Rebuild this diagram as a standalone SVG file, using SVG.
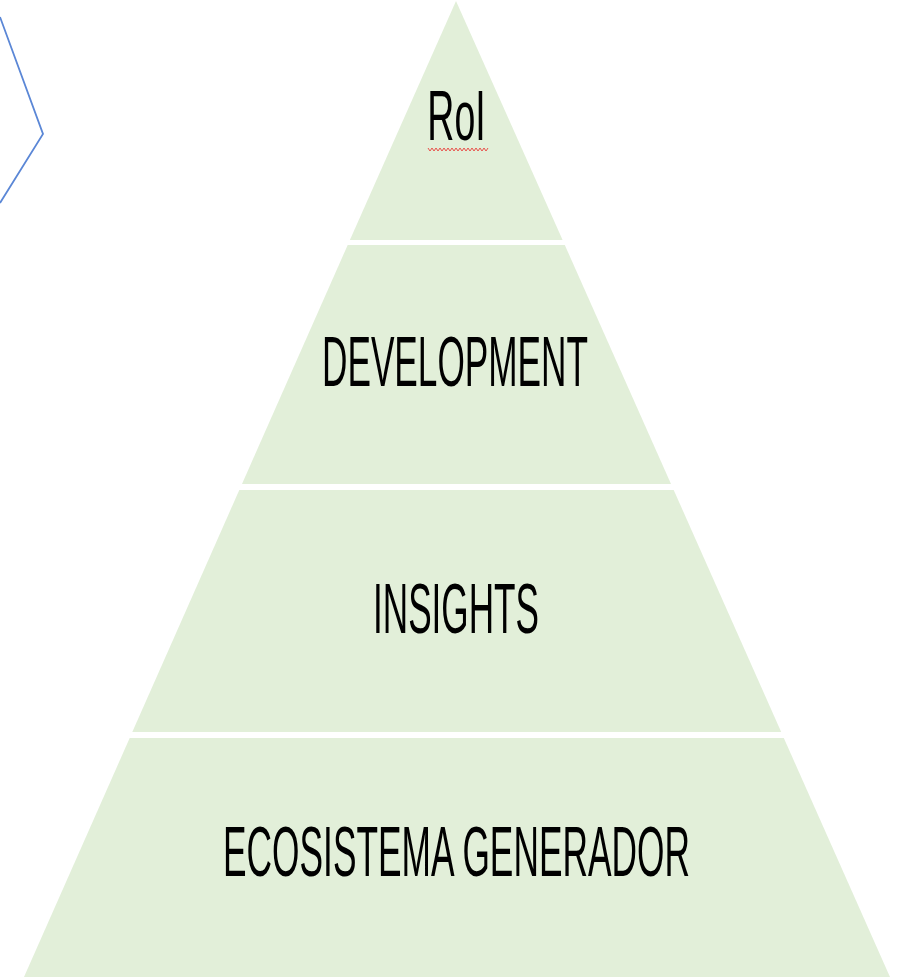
<svg xmlns="http://www.w3.org/2000/svg" width="902" height="978" viewBox="0 0 902 978">
<style>
.tier{fill:#e2efd9;}
.lbl{font-family:"Liberation Sans",Arial,sans-serif;font-size:70px;fill:#000;text-anchor:middle;}
.edge{fill:none;stroke:#5b87d6;stroke-width:1.8;}
.squig{fill:none;stroke:#e8504a;stroke-width:1;}
</style>
<rect width="902" height="978" fill="#ffffff"/>
<g id="connectors">
<polyline class="edge" points="0,17 43,134 0,203"/>
</g>
<g id="tier-roi">
<polygon class="tier" points="456,1 562.6,240 349.9,240"/>
<text class="lbl" transform="translate(456.5,140) scale(0.536,1)" x="0" y="0" font-size="66">RoI</text>
<polyline class="squig" points="428,148 430,151 432,148 434,151 436,148 438,151 440,148 442,151 444,148 446,151 448,148 450,151 452,148 454,151 456,148 458,151 460,148 462,151 464,148 466,151 468,148 470,151 472,148 474,151 476,148 478,151 480,148 482,151 484,148 486,151 488,148"/>
</g>
<g id="tier-development">
<polygon class="tier" points="347.7,245 564.8,245 671,484 242,484"/>
<text class="lbl" transform="translate(455,386) scale(0.503,1)" x="0" y="0">DEVELOPMENT</text>
</g>
<g id="tier-insights">
<polygon class="tier" points="239.3,490 673.7,490 781.2,732 132.3,732"/>
<text class="lbl" transform="translate(456,633) scale(0.502,1)" x="0" y="0">INSIGHTS</text>
</g>
<g id="tier-ecosistema">
<polygon class="tier" points="129.7,738 783.8,738 890,977 24,977"/>
<text class="lbl" transform="translate(456.5,876) scale(0.5045,1)" x="0" y="0">ECOSISTEMA GENERADOR</text>
</g>
</svg>
